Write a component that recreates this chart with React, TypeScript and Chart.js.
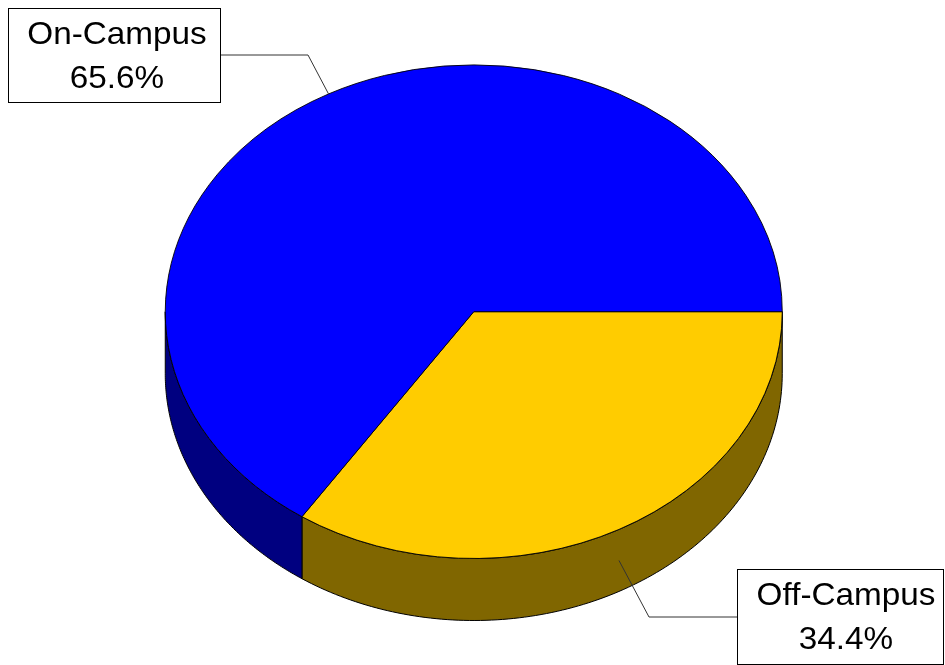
import React, { useEffect, useRef } from "react";
import { Chart, registerables } from "chart.js";

Chart.register(...registerables);

// Data
const categories = ["Off-Campus", "On-Campus"];
const values = [34.4, 65.6];
const valueLabels = ["34.4%", "65.6%"];
const topColors = ["#FFCC00", "#0000FF"];
const sideColors = ["#806600", "#000080"];

// Label box layout (screen pixels)
const labelBoxes = [
  { x: 737, y: 569, w: 206, h: 95, tx: 846, elbowX: 649, elbowY: 617 },
  { x: 8, y: 8, w: 212, h: 94, tx: 117, elbowX: 308, elbowY: 55 },
];

const SQUASH = 0.8;
const DEPTH = 62;
const FONT = "32px 'Liberation Sans', Arial, sans-serif";
const TEXT_STRETCH = 1.04;

const pie3d = {
  id: "pie3d",
  beforeDatasetsDraw(chart: any) {
    const ctx = chart.ctx;
    const meta = chart.getDatasetMeta(0);
    ctx.save();
    meta.data.forEach((arc: any, i: number) => {
      const { x, y, outerRadius, startAngle, endAngle } = arc.getProps(
        ["x", "y", "outerRadius", "startAngle", "endAngle"],
        true
      );
      const ranges = [
        [0, Math.PI],
        [2 * Math.PI, 3 * Math.PI],
      ];
      ranges.forEach(([r0, r1]) => {
        const t0 = Math.max(startAngle, r0);
        const t1 = Math.min(endAngle, r1);
        if (t1 <= t0) return;
        const n = 120;
        ctx.beginPath();
        for (let k = 0; k <= n; k++) {
          const t = t0 + ((t1 - t0) * k) / n;
          const px = x + outerRadius * Math.cos(t);
          const py = y + outerRadius * SQUASH * Math.sin(t);
          if (k === 0) ctx.moveTo(px, py);
          else ctx.lineTo(px, py);
        }
        for (let k = n; k >= 0; k--) {
          const t = t0 + ((t1 - t0) * k) / n;
          const px = x + outerRadius * Math.cos(t);
          const py = y + outerRadius * SQUASH * Math.sin(t) + DEPTH;
          ctx.lineTo(px, py);
        }
        ctx.closePath();
        ctx.fillStyle = sideColors[i];
        ctx.fill();
        ctx.lineWidth = 1;
        ctx.strokeStyle = "#000";
        ctx.stroke();
      });
    });
    ctx.restore();
    const a0 = meta.data[0];
    const cx = a0.x;
    const cy = a0.y;
    ctx.save();
    ctx.translate(cx, cy);
    ctx.scale(1, SQUASH);
    ctx.translate(-cx, -cy);
  },
  afterDatasetsDraw(chart: any) {
    const ctx = chart.ctx;
    ctx.restore();
    const meta = chart.getDatasetMeta(0);
    ctx.save();
    meta.data.forEach((arc: any, i: number) => {
      const { x, y, outerRadius, startAngle, endAngle } = arc.getProps(
        ["x", "y", "outerRadius", "startAngle", "endAngle"],
        true
      );
      const mid = (startAngle + endAngle) / 2;
      const ax = x + outerRadius * Math.cos(mid);
      let ay = y + outerRadius * SQUASH * Math.sin(mid);
      if (Math.sin(mid) > 0) ay += DEPTH / 2;
      const b = labelBoxes[i];
      const boxEdgeX = b.elbowX > b.x + b.w ? b.x + b.w : b.x;
      ctx.beginPath();
      ctx.moveTo(ax, ay);
      ctx.lineTo(b.elbowX, b.elbowY);
      ctx.lineTo(boxEdgeX, b.elbowY);
      ctx.strokeStyle = "#333";
      ctx.lineWidth = 1;
      ctx.stroke();

      ctx.fillStyle = "#fff";
      ctx.fillRect(b.x + 0.5, b.y + 0.5, b.w, b.h);
      ctx.strokeStyle = "#000";
      ctx.strokeRect(b.x + 0.5, b.y + 0.5, b.w, b.h);

      ctx.fillStyle = "#000";
      ctx.font = FONT;
      ctx.textAlign = "center";
      ctx.textBaseline = "middle";
      ctx.save();
      ctx.translate(b.tx, 0);
      ctx.scale(TEXT_STRETCH, 1);
      ctx.fillText(categories[i], 0, b.y + 27);
      ctx.fillText(valueLabels[i], 0, b.y + 71);
      ctx.restore();
    });
    ctx.restore();
  },
};

export default function App() {
  const ref = useRef<HTMLCanvasElement>(null);
  useEffect(() => {
    document.body.style.margin = "0";
    const chart = new Chart(ref.current!, {
      type: "pie",
      data: {
        labels: categories,
        datasets: [
          {
            data: values,
            backgroundColor: topColors,
            borderColor: "#000",
            borderWidth: 1,
            hoverBorderWidth: 1,
            hoverOffset: 0,
            offset: 0,
            clip: false as any,
          },
        ],
      },
      options: {
        animation: false,
        responsive: false,
        rotation: 90,
        events: [],
        layout: { padding: { left: 164.75, right: 162.25, top: 2.7, bottom: 44.3 } },
        plugins: { legend: { display: false }, tooltip: { enabled: false } },
      },
      plugins: [pie3d],
    });
    return () => chart.destroy();
  }, []);
  return (
    <div style={{ width: 945, height: 665 }}>
      <canvas ref={ref} width={945} height={665} style={{ display: "block" }} />
    </div>
  );
}
